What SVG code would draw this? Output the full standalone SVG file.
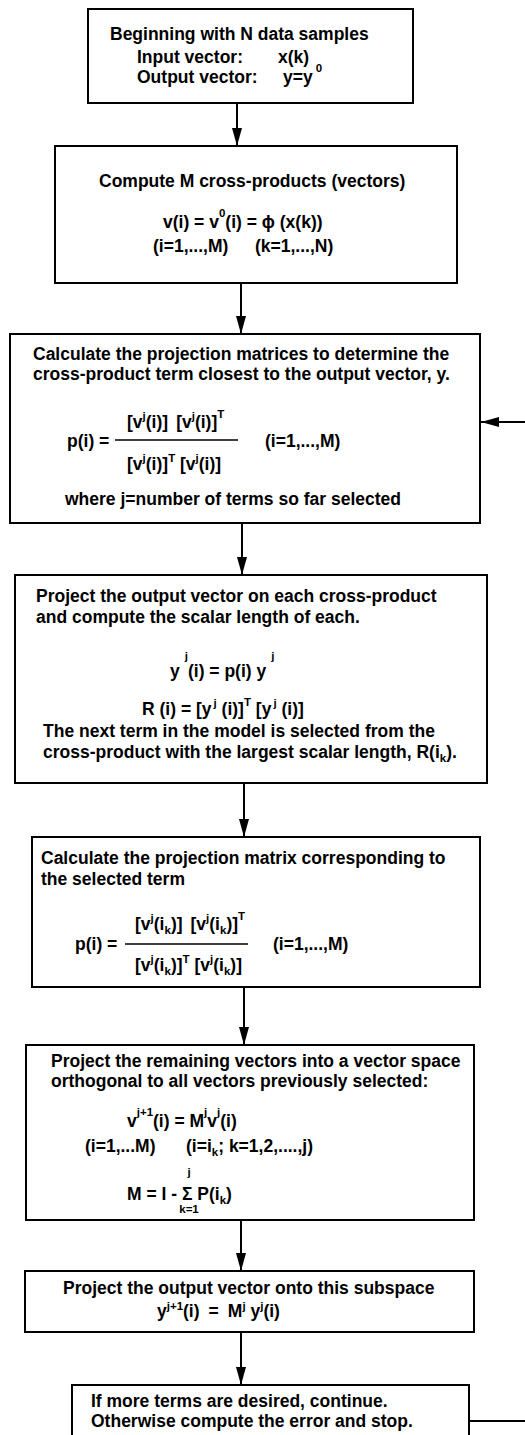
<svg xmlns="http://www.w3.org/2000/svg" width="525" height="1435" viewBox="0 0 525 1435">
<defs>
<style>
.box{fill:#fff;stroke:#000;stroke-width:2}
.t{font-family:"Liberation Sans",Arial,"DejaVu Sans",sans-serif;font-weight:bold;font-size:17.5px;fill:#000}
.s{font-size:11.5px}
.c line,.c path{stroke:#000;stroke-width:2;fill:none}
.fl{stroke:#000;stroke-width:1.3}
</style>
<marker id="ah" viewBox="0 0 18 10" refX="18" refY="5" markerWidth="18" markerHeight="10" markerUnits="userSpaceOnUse" orient="auto">
<path d="M0,0 L18,5 L0,10 z" fill="#000"/>
</marker>
</defs>
<rect width="525" height="1435" fill="#fff"/>

<g class="c" id="connectors">
<line x1="237" y1="103" x2="237" y2="146" marker-end="url(#ah)"/>
<line x1="241" y1="283" x2="241" y2="334" marker-end="url(#ah)"/>
<line x1="242" y1="523" x2="242" y2="575" marker-end="url(#ah)"/>
<line x1="244" y1="783" x2="244" y2="837" marker-end="url(#ah)"/>
<line x1="244" y1="987" x2="244" y2="1045" marker-end="url(#ah)"/>
<line x1="241" y1="1220" x2="241" y2="1271" marker-end="url(#ah)"/>
<line x1="241" y1="1332" x2="241" y2="1385" marker-end="url(#ah)"/>
<line x1="469" y1="1421" x2="525" y2="1421"/>
<line x1="525" y1="422" x2="481" y2="422" marker-end="url(#ah)"/>
</g>

<g id="n1">
<rect class="box" x="88" y="9" width="325" height="94"/>
<text class="t" x="110" y="40">Beginning with N data samples</text>
<text class="t" x="137" y="63">Input vector:</text>
<text class="t" x="278" y="63">x(k)</text>
<text class="t" x="137" y="83">Output vector:</text>
<text class="t" x="283" y="83">y=y<tspan class="s" dx="3" dy="-11">0</tspan></text>
</g>

<g id="n2">
<rect class="box" x="55" y="146" width="402" height="137"/>
<text class="t" x="99" y="187">Compute M cross-products (vectors)</text>
<text class="t" x="163" y="228">v(i) = v<tspan class="s" dy="-11">0</tspan><tspan dy="11">(i) = ϕ (x(k))</tspan></text>
<text class="t" x="153" y="252">(i=1,...,M)</text>
<text class="t" x="255" y="252">(k=1,...,N)</text>
</g>

<g id="n3">
<rect class="box" x="10" y="334" width="470" height="189"/>
<text class="t" x="33" y="360">Calculate the projection matrices to determine the</text>
<text class="t" x="33" y="380">cross-product term closest to the output vector, y.</text>
<text class="t" x="127" y="428">[v<tspan class="s" dy="-8">j</tspan><tspan dy="8">(i)]</tspan><tspan dx="8">[v</tspan><tspan class="s" dy="-8">j</tspan><tspan dy="8">(i)]</tspan><tspan class="s" dy="-10">T</tspan></text>
<text class="t" x="67" y="447">p(i) =</text>
<line class="fl" x1="115" y1="440" x2="238" y2="440"/>
<text class="t" x="265" y="447">(i=1,...,M)</text>
<text class="t" x="127" y="470">[v<tspan class="s" dy="-8">j</tspan><tspan dy="8">(i)]</tspan><tspan class="s" dy="-8">T</tspan><tspan dy="8"> [v</tspan><tspan class="s" dy="-8">j</tspan><tspan dy="8">(i)]</tspan></text>
<text class="t" x="65" y="505">where j=number of terms so far selected</text>
</g>

<g id="n4">
<rect class="box" x="15" y="575" width="472" height="208"/>
<text class="t" x="36" y="602">Project the output vector on each cross-product</text>
<text class="t" x="36" y="623">and compute the scalar length of each.</text>
<text class="t" x="170" y="677">y<tspan class="s" dx="5" dy="-17">j</tspan><tspan dy="17">(i) = p(i) y</tspan><tspan class="s" dx="5" dy="-17">j</tspan></text>
<text class="t" x="142" y="715">R (i) = [y<tspan class="s" dx="2" dy="-8">j</tspan><tspan dy="8"> (i)]</tspan><tspan class="s" dy="-9">T</tspan><tspan dy="9"> [y</tspan><tspan class="s" dx="2" dy="-8">j</tspan><tspan dy="8"> (i)]</tspan></text>
<text class="t" x="43" y="737">The next term in the model is selected from the</text>
<text class="t" x="43" y="758">cross-product with the largest scalar length, R(i<tspan class="s" dy="4">k</tspan><tspan dy="-4">).</tspan></text>
</g>

<g id="n5">
<rect class="box" x="32" y="837" width="448" height="150"/>
<text class="t" x="41" y="864">Calculate the projection matrix corresponding to</text>
<text class="t" x="41" y="885">the selected term</text>
<text class="t" x="135" y="930">[v<tspan class="s" dy="-8">j</tspan><tspan dy="8">(i</tspan><tspan class="s" dy="4">k</tspan><tspan dy="-4">)]</tspan><tspan dx="8">[v</tspan><tspan class="s" dy="-8">j</tspan><tspan dy="8">(i</tspan><tspan class="s" dy="4">k</tspan><tspan dy="-4">)]</tspan><tspan class="s" dy="-10">T</tspan></text>
<text class="t" x="75" y="950">p(i) =</text>
<line class="fl" x1="125" y1="944" x2="248" y2="944"/>
<text class="t" x="273" y="950">(i=1,...,M)</text>
<text class="t" x="135" y="971">[v<tspan class="s" dy="-8">j</tspan><tspan dy="8">(i</tspan><tspan class="s" dy="4">k</tspan><tspan dy="-4">)]</tspan><tspan class="s" dy="-8">T</tspan><tspan dy="8"> [v</tspan><tspan class="s" dy="-8">j</tspan><tspan dy="8">(i</tspan><tspan class="s" dy="4">k</tspan><tspan dy="-4">)]</tspan></text>
</g>

<g id="n6">
<rect class="box" x="26" y="1045" width="448" height="175"/>
<text class="t" x="51" y="1067">Project the remaining vectors into a vector space</text>
<text class="t" x="51" y="1087">orthogonal to all vectors previously selected:</text>
<text class="t" x="127" y="1127">v<tspan class="s" dy="-11">j+1</tspan><tspan dy="11">(i) = M</tspan><tspan class="s" dy="-11">j</tspan><tspan dy="11">v</tspan><tspan class="s" dy="-11">j</tspan><tspan dy="11">(i)</tspan></text>
<text class="t" x="85" y="1152">(i=1,...M)</text>
<text class="t" x="186" y="1152">(i=i<tspan class="s" dy="4">k</tspan><tspan dy="-4">; k=1,2,....,j)</tspan></text>
<text class="t" x="127" y="1200">M = I - Σ P(i<tspan class="s" dy="4">k</tspan><tspan dy="-4">)</tspan></text>
<text class="t s" x="189" y="1176" text-anchor="middle">j</text>
<text class="t s" x="189" y="1213" text-anchor="middle">k=1</text>
</g>

<g id="n7">
<rect class="box" x="25" y="1271" width="449" height="61"/>
<text class="t" x="63" y="1294">Project the output vector onto this subspace</text>
<text class="t" x="157" y="1317">y<tspan class="s" dy="-7">j+1</tspan><tspan dy="7">(i)</tspan><tspan dx="9">=</tspan><tspan dx="9">M</tspan><tspan class="s" dy="-7">j</tspan><tspan dy="7"> y</tspan><tspan class="s" dy="-7">j</tspan><tspan dy="7">(i)</tspan></text>
</g>

<g id="n8">
<rect class="box" x="72" y="1385" width="397" height="70"/>
<text class="t" x="91" y="1407">If more terms are desired, continue.</text>
<text class="t" x="91" y="1427">Otherwise compute the error and stop.</text>
</g>
</svg>
